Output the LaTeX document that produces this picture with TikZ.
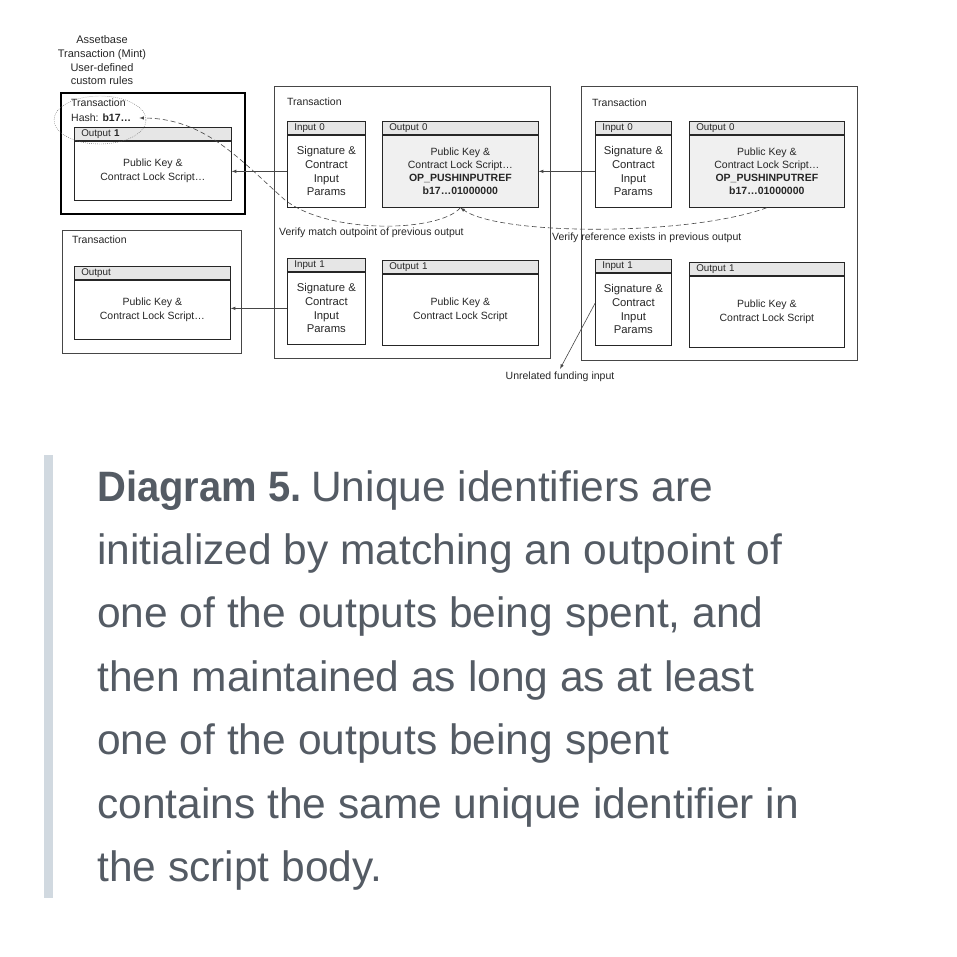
\documentclass[tikz,border=0pt]{standalone}
\usepackage{fontspec}
\setmainfont{Liberation Sans}
\usetikzlibrary{shapes}
\usetikzlibrary{arrows}

\definecolor{hdrgray}{RGB}{230,230,230}
\definecolor{bodygray}{RGB}{240,240,240}
\definecolor{linegray}{RGB}{70,70,70}
\definecolor{captxt}{RGB}{84,91,100}
\definecolor{barblue}{RGB}{209,217,224}

\newcommand{\boxfont}{\fontsize{10.5}{14}\selectfont}
\newcommand{\sigfont}{\fontsize{11.3}{13.7}\selectfont}
\newcommand{\hdrfont}{\fontsize{9.8}{10}\selectfont}
\newcommand{\toplblfont}{\fontsize{11}{13.7}\selectfont}
\newcommand{\capfont}{\fontsize{42.5}{63.4}\selectfont}

\tikzset{
  txbox/.style={draw=linegray, line width=0.8pt, inner sep=0pt, anchor=north west},
  bodybox/.style={draw=black!85, line width=0.7pt, inner sep=0pt, anchor=north west, align=center, font=\boxfont, text=black!85},
  hdr/.style={draw=black!85, fill=hdrgray, line width=0.7pt, inner xsep=7pt, inner ysep=0pt, minimum height=13pt, anchor=south west, align=left, font=\hdrfont, text=black!85},
  lbl/.style={inner sep=0pt, anchor=west, font=\boxfont, text=black!85},
  link/.style={->, >=latex, draw=linegray, line width=0.6pt},
  dashlink/.style={->, >=latex, draw=linegray, line width=0.6pt, dash pattern=on 5pt off 3pt},
}

\begin{document}
\begin{tikzpicture}[x=1pt, y=-1pt]

 \useasboundingbox (0,0) rectangle (957,956);

 % minting transaction
 \node[align=center, font=\toplblfont, text=black!85] (mintlbl) at (102,60.5)
   {Assetbase\\Transaction (Mint)\\User-defined\\custom rules};
 \node[txbox, line width=2pt, draw=black, minimum width=184pt, minimum height=121pt] (mint) at (60,92) {};
 \node[lbl] (minttx) at (71,103) {Transaction};
 \node[lbl] (hash) at (71,118) {Hash: \textbf{b17…}};
 \node[bodybox, minimum width=157pt, minimum height=59pt] (asset1) at (74,141) {Public Key \&\\Contract Lock Script…};
 \node[hdr, text width=143pt] (asset1h) at (asset1.north west) {Output \textbf{1}};
 \node[ellipse, draw=black!60, dash pattern=on 0.8pt off 1.2pt, minimum width=92pt, minimum height=48pt] (ring) at (100,120) {};

 % plain transaction
 \node[txbox, minimum width=179pt, minimum height=123pt] (plaintx) at (62,230) {};
 \node[lbl] (plaintxl) at (72,240) {Transaction};
 \node[bodybox, minimum width=156pt, minimum height=59pt] (plain) at (74,280) {Public Key \&\\Contract Lock Script…};
 \node[hdr, text width=142pt] (plainh) at (plain.north west) {Output};

 % middle transaction
 \node[txbox, minimum width=276pt, minimum height=272pt] (mtx) at (274,86) {};
 \node[lbl] (mtxl) at (287,102) {Transaction};
 \node[bodybox, font=\sigfont, minimum width=78pt, minimum height=72pt] (mi0) at (287,135) {Signature \&\\Contract\\Input\\Params};
 \node[hdr, text width=64pt] (mi0h) at (mi0.north west) {Input 0};
 \node[bodybox, fill=bodygray, minimum width=156pt, minimum height=72pt] (mo0) at (382,135)
   {Public Key \&\\[-1pt]Contract Lock Script…\\[-1pt]\textbf{OP\_PUSHINPUTREF}\\[-1pt]\textbf{b17…01000000}};
 \node[hdr, text width=142pt] (mo0h) at (mo0.north west) {Output 0};
 \node[bodybox, font=\sigfont, minimum width=78pt, minimum height=72pt] (mi1) at (287,272) {Signature \&\\Contract\\Input\\Params};
 \node[hdr, text width=64pt] (mi1h) at (mi1.north west) {Input 1};
 \node[bodybox, minimum width=156pt, minimum height=71pt] (mo1) at (382,274) {Public Key \&\\Contract Lock Script};
 \node[hdr, text width=142pt] (mo1h) at (mo1.north west) {Output 1};

 % right transaction
 \node[txbox, minimum width=276pt, minimum height=274pt] (rtx) at (581,86) {};
 \node[lbl] (rtxl) at (592,103) {Transaction};
 \node[bodybox, font=\sigfont, minimum width=76pt, minimum height=72pt] (ri0) at (595,135) {Signature \&\\Contract\\Input\\Params};
 \node[hdr, text width=62pt] (ri0h) at (ri0.north west) {Input 0};
 \node[bodybox, fill=bodygray, minimum width=155pt, minimum height=72pt] (ro0) at (689,135)
   {Public Key \&\\[-1pt]Contract Lock Script…\\[-1pt]\textbf{OP\_PUSHINPUTREF}\\[-1pt]\textbf{b17…01000000}};
 \node[hdr, text width=141pt] (ro0h) at (ro0.north west) {Output 0};
 \node[bodybox, font=\sigfont, minimum width=76pt, minimum height=72pt] (ri1) at (595,273) {Signature \&\\Contract\\Input\\Params};
 \node[hdr, text width=62pt] (ri1h) at (ri1.north west) {Input 1};
 \node[bodybox, minimum width=155pt, minimum height=71pt] (ro1) at (689,276) {Public Key \&\\Contract Lock Script};
 \node[hdr, text width=141pt] (ro1h) at (ro1.north west) {Output 1};

 \node[lbl] (vmatch) at (279,233) {Verify match outpoint of previous output};
 \node[lbl] (vref) at (552,238) {Verify reference exists in previous output};
 \node[font=\boxfont, text=black!85, inner sep=3pt] (fund) at (560,377) {Unrelated funding input};

 % spending links
 \draw[link] (mi0.west) -- (mi0.west -| asset1.east);
 \draw[link] (ri0.west) -- (ri0.west -| mo0.east);
 \draw[link] (mi1.west) -- (mi1.west -| plain.east);
 \draw[link] ([yshift=6pt]ri1.west) -- (fund.north);

 % reference checks
 \draw[dashlink] (mo0.south) .. controls (440,232) and (330,235) .. (285,200)
   .. controls (240,160) and (205,118) .. ([xshift=8pt]hash.east);
 \draw[dashlink] (ro0.south) .. controls (690,236) and (500,236) .. (mo0.south);

 % caption
 \fill[barblue] (44,455) rectangle (53,898);
 \foreach \k/\ln in {0/{\scalebox{0.94}[1]{\textbf{Diagram 5.}}\hspace{-2pt} Unique identifiers are},
                     1/{initialized by matching an outpoint of},
                     2/{one of the outputs being spent, and},
                     3/{then maintained as long as at least},
                     4/{one of the outputs being spent},
                     5/{contains the same unique identifier in},
                     6/{the script body.}}
 {
   \node[anchor=base west, inner sep=0pt, font=\capfont, text=captxt] (cap\k) at (97,{501+63.4*\k}) {\ln};
 }

\end{tikzpicture}
\end{document}
